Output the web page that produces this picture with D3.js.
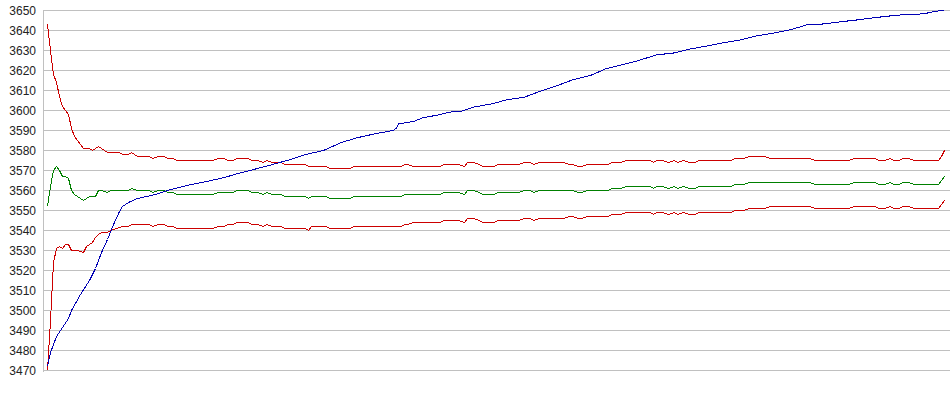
<!DOCTYPE html>
<html>
<head>
    <script src="https://d3js.org/d3.v7.min.js"></script>
    <style>
        body { margin: 0; background: #ffffff; }
        svg { display: block; }
        .tick-label { font-family: 'Liberation Sans', Arial, sans-serif; font-size: 12px; fill: #222; }
    </style>
</head>
<body>
<div id="chart"></div>
<script>
// y ticks
const yTicks = d3.range(3470, 3651, 10);

// each series: [sample index, value]
const upperBand = [
  [0,3643],[1,3630],[2,3618],[3,3614],[4,3607],[5,3602],[6,3600],[7,3598],[8,3591],[9,3587],
  [10,3585],[11,3583],[12,3581],[14,3581],[15,3580],[17,3582],[18,3581],[20,3579],[24,3579],[25,3578],
  [27,3578],[28,3579],[30,3577],[34,3577],[35,3576],[37,3577],[39,3577],[40,3576],[42,3576],[43,3575],
  [55,3575],[57,3576],[59,3576],[60,3575],[62,3575],[63,3576],[67,3576],[68,3575],[70,3575],[72,3574],
  [73,3575],[75,3574],[78,3574],[79,3573],[86,3573],[87,3572],[93,3572],[94,3571],[101,3571],[102,3572],
  [118,3572],[119,3573],[120,3573],[122,3572],[131,3572],[132,3573],[137,3573],[139,3572],[140,3574],[142,3574],
  [144,3573],[145,3572],[149,3572],[150,3573],[157,3573],[159,3574],[161,3574],[162,3573],[164,3574],[172,3574],
  [174,3573],[175,3573],[177,3572],[178,3572],[180,3573],[187,3573],[188,3574],[191,3574],[193,3575],[201,3575],
  [202,3574],[203,3575],[205,3575],[207,3574],[209,3575],[210,3574],[212,3575],[214,3574],[216,3574],[217,3575],
  [228,3575],[229,3576],[232,3576],[234,3577],[239,3577],[241,3576],[254,3576],[256,3575],[267,3575],[269,3576],
  [276,3576],[277,3575],[279,3575],[281,3576],[282,3575],[284,3575],[285,3576],[287,3576],[289,3575],[297,3575],
  [298,3577],[299,3580]
];

const middleBand = [
  [0,3552],[1,3562],[2,3570],[3,3572],[4,3570],[5,3567],[6,3567],[7,3566],[8,3560],[9,3558],
  [10,3557],[11,3556],[12,3555],[13,3556],[14,3557],[16,3557],[17,3560],[18,3560],[20,3559],[21,3560],
  [27,3560],[28,3561],[30,3560],[34,3560],[35,3559],[37,3560],[39,3560],[40,3559],[42,3559],[43,3558],
  [55,3558],[57,3559],[62,3559],[63,3560],[67,3560],[68,3559],[70,3559],[72,3558],[73,3559],[75,3558],
  [78,3558],[79,3557],[86,3557],[87,3556],[88,3557],[93,3557],[94,3556],[101,3556],[102,3557],[118,3557],
  [119,3558],[131,3558],[132,3559],[137,3559],[139,3558],[140,3560],[142,3560],[144,3559],[145,3558],[149,3558],
  [150,3559],[157,3559],[159,3560],[161,3560],[162,3559],[164,3560],[175,3560],[177,3559],[178,3559],[180,3560],
  [187,3560],[188,3561],[191,3561],[193,3562],[201,3562],[202,3561],[203,3562],[205,3562],[207,3561],[209,3562],
  [210,3561],[212,3562],[214,3561],[216,3561],[217,3562],[228,3562],[229,3563],[232,3563],[234,3564],[254,3564],
  [256,3563],[267,3563],[269,3564],[276,3564],[277,3563],[279,3563],[281,3564],[282,3563],[284,3563],[285,3564],
  [287,3564],[289,3563],[297,3563],[298,3565],[299,3567]
];

const lowerBand = [
  [0,3470],[1,3495],[2,3524],[3,3531],[4,3532],[5,3531],[6,3533],[7,3533],[8,3530],[10,3530],
  [11,3529.5],[12,3529],[13,3532],[15,3534],[16,3536.5],[17,3538],[18,3539],[20,3539],[21,3540],[23,3541],
  [25,3542],[27,3542],[28,3543],[34,3543],[35,3542],[37,3543],[39,3543],[40,3542],[42,3542],[43,3541],
  [55,3541],[57,3542],[59,3542],[60,3543],[62,3543],[63,3544],[67,3544],[68,3543],[70,3543],[72,3542],
  [73,3543],[75,3542],[78,3542],[79,3541],[86,3541],[87,3540],[88,3542],[93,3542],[94,3541],[101,3541],
  [102,3542],[118,3542],[119,3543],[120,3543],[122,3544],[131,3544],[132,3545],[137,3545],[139,3544],[140,3546],
  [142,3546],[144,3545],[145,3544],[149,3544],[150,3545],[157,3545],[159,3546],[161,3546],[162,3545],[164,3546],
  [172,3546],[174,3547],[175,3547],[177,3546],[178,3546],[180,3547],[187,3547],[188,3548],[191,3548],[193,3549],
  [201,3549],[202,3548],[203,3549],[205,3549],[207,3548],[209,3549],[210,3548],[212,3549],[214,3548],[216,3548],
  [217,3549],[228,3549],[229,3550],[232,3550],[234,3551],[239,3551],[241,3552],[254,3552],[256,3551],[267,3551],
  [269,3552],[276,3552],[277,3551],[279,3551],[281,3552],[282,3551],[284,3551],[285,3552],[287,3552],[289,3551],
  [297,3551],[298,3553],[299,3555]
];

const price = [
  [0,3472],[1,3479],[2,3483],[3,3487],[5,3491.5],[7,3496],[8,3500],[11,3508],[14,3515],[16,3521],
  [18,3529],[20,3535.5],[22,3543],[24,3549.5],[25,3552],[27,3554],[30,3556],[33,3557],[36,3558],[41,3560.5],
  [48,3563],[53,3564.5],[59,3566.5],[64,3568.7],[70,3571],[75,3573],[81,3575.5],[86,3578],[92,3580],[98,3584],
  [103,3586.3],[109,3588.3],[114,3589.7],[116,3590.5],[117,3593.3],[122,3594.5],[125,3596.3],[131,3598],[134,3599.2],[138,3599.7],
  [142,3601.7],[148,3603.3],[153,3605.3],[159,3606.7],[164,3609.5],[170,3612.5],[175,3615.3],[181,3617.5],[186,3620.8],[192,3623],
  [197,3625],[203,3627.8],[209,3628.8],[214,3630.7],[220,3632.3],[225,3633.8],[231,3635.3],[236,3637.2],[242,3638.7],[248,3640.5],
  [253,3642.8],[259,3643.3],[264,3644.3],[270,3645.3],[275,3646.3],[281,3647.3],[286,3648],[292,3648.3],[295,3649.3],[299,3650.3]
];

const width = 950, height = 395;

const svg = d3.select('#chart').append('svg')
    .attr('width', width)
    .attr('height', height);

const x = d3.scaleLinear().domain([0, 299]).range([47, 944]);
const y = d3.scaleLinear().domain([3470, 3650]).range([370, 10]);

// gridlines
svg.append('g')
    .selectAll('line')
    .data(yTicks)
    .enter().append('line')
    .attr('x1', 43)
    .attr('x2', width)
    .attr('y1', d => y(d) + 0.5)
    .attr('y2', d => y(d) + 0.5)
    .attr('stroke', '#c0c0c0')
    .attr('shape-rendering', 'crispEdges');

// vertical axis line
svg.append('line')
    .attr('x1', 43.5).attr('x2', 43.5)
    .attr('y1', 10).attr('y2', 372)
    .attr('stroke', '#c0c0c0')
    .attr('shape-rendering', 'crispEdges');

// tick labels
svg.append('g')
    .selectAll('text')
    .data(yTicks)
    .enter().append('text')
    .attr('class', 'tick-label')
    .attr('x', 36)
    .attr('y', d => y(d) + 0.5)
    .attr('dy', '0.36em')
    .attr('text-anchor', 'end')
    .text(d => d);

const line = d3.line()
    .x(d => x(d[0]) + 0.5)
    .y(d => y(d[1]) + 0.5);

const series = [
    { data: upperBand, color: '#cc0000' },
    { data: lowerBand, color: '#cc0000' },
    { data: middleBand, color: '#008000' },
    { data: price, color: '#0000b4' }
];

svg.append('g')
    .selectAll('path')
    .data(series)
    .enter().append('path')
    .attr('d', d => line(d.data))
    .attr('fill', 'none')
    .attr('stroke', d => d.color)
    .attr('stroke-width', 1)
    .attr('shape-rendering', 'crispEdges');
</script>
</body>
</html>
